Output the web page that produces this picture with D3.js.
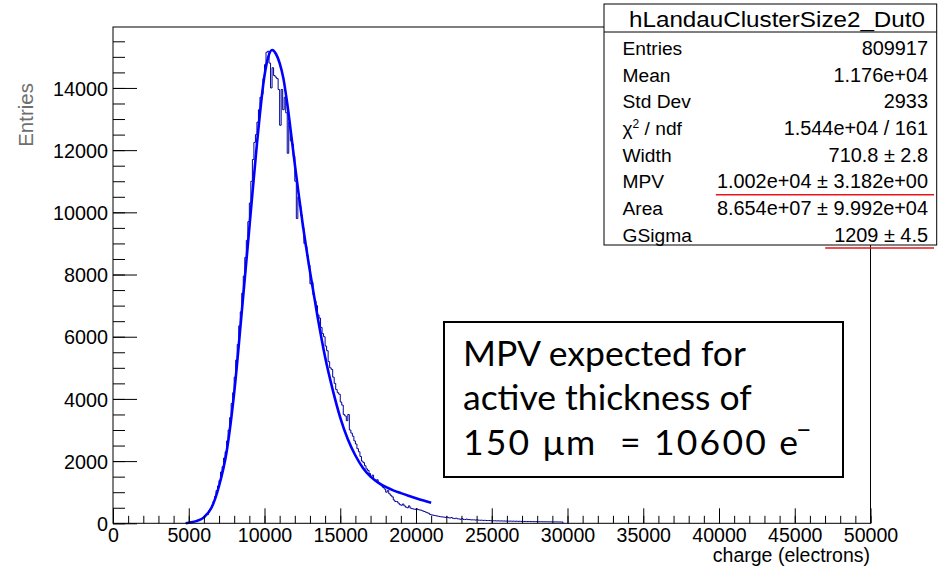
<!DOCTYPE html>
<html>
<head>
<meta charset="utf-8">
<script src="https://cdn.jsdelivr.net/npm/d3@7"></script>
<style>
  body { margin: 0; background: #fff; }
  svg text { font-family: "Liberation Sans", Arial, sans-serif; fill: #000; }
</style>
</head>
<body>
<svg id="chart" width="941" height="569"></svg>
<script>
// histogram: 100 e- bins starting at 4800
const binLow = 4800, binWidth = 100;
const counts = [
  4, 12, 22, 30, 44, 52, 66, 78, 104, 128,
  150, 178, 215, 270, 280, 400, 480, 560, 700, 860,
  1050, 1200, 1380, 1650, 1820, 2100, 2300, 2650, 3000, 3400,
  3850, 4200, 4700, 5250, 5750, 6350, 6800, 7400, 7950, 8550,
  9100, 9700, 10300, 11000, 11700, 12250, 12500, 12900, 13300, 13700,
  13800, 14300, 14750, 15150, 15180, 14800, 14000, 14650, 14400, 14350,
  14300, 13950, 12800, 13950, 13300, 13700, 13200, 11900, 12900, 12300,
  12200, 11800, 11000, 9800, 10500, 10200, 9900, 9500, 9000, 8900,
  8600, 8300, 7700, 7750, 7350, 7150, 7000, 6700, 6600, 6300,
  6100, 6000, 5700, 5550, 5200, 5000, 4950, 4700, 4500, 4300,
  4200, 4150, 3900, 3800, 3500, 3450, 3300, 3500, 3000, 2900,
  2800, 2650, 2550, 2400, 2300, 2150, 2000, 1950, 1850, 1750,
  1700, 1600, 1500, 1550, 1400, 1350, 1400, 1300, 1250, 1200,
  1150, 1100, 1000, 1050, 950, 900, 850, 750, 700, 700,
  650, 600, 580, 620, 560, 520, 500, 560, 490, 470,
  460, 450, 470, 440, 430, 420, 400, 380, 360, 340,
  320, 280, 270, 260, 250, 240, 230, 220, 210, 205,
  200, 190, 205, 180, 170, 185, 160, 150, 165, 145,
  140, 130, 150, 125, 120, 135, 118, 120, 110, 112,
  110, 104, 112, 100, 98, 100, 92, 96, 90, 88,
  90, 84, 86, 80, 82, 76, 79, 74, 77, 72,
  75, 70, 73, 68, 71, 66, 69, 64, 67, 62,
  65, 60, 63, 58, 61, 56, 59, 55, 57, 54,
  55, 52, 53, 50, 52, 49, 50, 48, 49, 47,
  48, 46, 46, 45, 45, 44, 44, 43, 42
];

// fitted Landau (x) Gauss curve
const fitX = [4800, 5000, 5500, 6000, 6500, 7000, 7500, 8000, 8500, 9000, 9500, 10000,
  10250, 10500, 10750, 11000, 11250, 11500, 11750, 12000, 12250, 12500, 13000, 13500,
  14000, 14500, 15000, 15500, 16000, 16500, 17000, 17500, 18000, 18500, 19000, 19500,
  20000, 20500, 21000];
const fitY = [0, 20, 70, 190, 500, 1200, 2300, 4200, 6800, 9500, 12200, 14400,
  15000, 15220, 15100, 14800, 14300, 13500, 12550, 11550, 10600, 9700, 8100, 6650,
  5350, 4300, 3400, 2700, 2180, 1780, 1500, 1310, 1170, 1060, 970, 885,
  805, 730, 660];

const xTicks = [0, 5000, 10000, 15000, 20000, 25000, 30000, 35000, 40000, 45000, 50000];
const yTicks = [0, 2000, 4000, 6000, 8000, 10000, 12000, 14000];

const statTitle = "hLandauClusterSize2_Dut0";
const statNames = ["Entries", "Mean", "Std Dev", "χ2 / ndf", "Width", "MPV", "Area", "GSigma"];
const statValues = ["809917", "1.176e+04", "2933", "1.544e+04 / 161", "710.8 ± 2.8",
  "1.002e+04 ± 3.182e+00", "8.654e+07 ± 9.992e+04", "1209 ± 4.5"];
const underlined = ["MPV", "GSigma"];

const noteLines = ["MPV expected for", "active thickness of", "150 μm  = 10600 e"];

const svg = d3.select("#chart");
const x = d3.scaleLinear().domain([0, 50000]).range([113, 870.5]);
const y = d3.scaleLinear().domain([0, 15960]).range([523.3, 27]);

// histogram as a step path
const steps = [[binLow, 0]];
counts.forEach((c, i) => {
  const lo = binLow + i * binWidth;
  steps.push([lo, c], [lo + binWidth, c]);
});
steps.push([binLow + counts.length * binWidth, 0]);

svg.append("path")
  .attr("d", d3.line().x(d => x(d[0])).y(d => y(d[1]))(steps))
  .attr("fill", "none")
  .attr("stroke", "#00009a")
  .attr("stroke-width", 1);

svg.append("path")
  .attr("d", d3.line().x(d => x(d[0])).y(d => y(d[1])).curve(d3.curveMonotoneX)(fitX.map((v, i) => [v, fitY[i]])))
  .attr("fill", "none")
  .attr("stroke", "#0000ff")
  .attr("stroke-width", 2.6);

// frame
svg.append("rect")
  .attr("x", x(0)).attr("y", y.range()[1])
  .attr("width", x(50000) - x(0)).attr("height", y.range()[0] - y.range()[1])
  .attr("fill", "none").attr("stroke", "#000").attr("stroke-width", 1);

// axes (ticks point into the frame)
const xAxis = svg.append("g").attr("transform", `translate(0,${y(0)})`)
  .call(d3.axisBottom(x).tickValues(xTicks).tickSizeInner(-15).tickSizeOuter(0).tickPadding(5).tickFormat(d3.format("d")));
svg.append("g").attr("transform", `translate(0,${y(0)})`)
  .call(d3.axisBottom(x).tickValues(d3.range(0, 50001, 1000)).tickSizeInner(-7.5).tickSizeOuter(0).tickFormat(""));
const yAxis = svg.append("g").attr("transform", `translate(${x(0)},0)`)
  .call(d3.axisLeft(y).tickValues(yTicks).tickSizeInner(-24).tickSizeOuter(0).tickPadding(5).tickFormat(d3.format("d")));
svg.append("g").attr("transform", `translate(${x(0)},0)`)
  .call(d3.axisLeft(y).tickValues(d3.range(0, 15960, 500)).tickSizeInner(-12).tickSizeOuter(0).tickFormat(""));

svg.selectAll(".domain").remove();
svg.selectAll(".tick line").attr("stroke", "#000").attr("stroke-width", 1);
xAxis.selectAll("text").style("font-size", "19.6px").attr("fill", "#000").attr("dy", "0.68em");
yAxis.selectAll("text").style("font-size", "19.8px").attr("fill", "#000").attr("dy", "0.36em");

svg.append("text")
  .attr("x", 870).attr("y", 562)
  .attr("text-anchor", "end")
  .style("font-size", "19.5px")
  .text("charge (electrons)");

svg.append("text")
  .attr("transform", "translate(32.5,83) rotate(-90)")
  .attr("text-anchor", "end")
  .style("font-size", "20.5px")
  .style("fill", "#6e6e6e")
  .text("Entries");

// stats box
const box = svg.append("g");
box.append("rect")
  .attr("x", 604).attr("y", 4).attr("width", 332.7).attr("height", 241)
  .attr("fill", "#fff").attr("stroke", "#000").attr("stroke-width", 1);
box.append("line")
  .attr("x1", 604).attr("x2", 936.7).attr("y1", 32).attr("y2", 32)
  .attr("stroke", "#000");
box.append("text")
  .attr("x", 629).attr("y", 26.7)
  .attr("textLength", 296).attr("lengthAdjust", "spacingAndGlyphs")
  .style("font-size", "21.5px")
  .text(statTitle);

const rowY = i => 55 + i * 26.65;
statNames.forEach((name, i) => {
  const t = box.append("text").attr("x", 622.5).attr("y", rowY(i)).style("font-size", "19.2px");
  if (name.startsWith("χ2")) {
    t.append("tspan").text("χ");
    t.append("tspan").attr("dy", -7).style("font-size", "12px").text("2");
    t.append("tspan").attr("dy", 7).text(" / ndf");
  } else {
    t.text(name);
  }
  const v = box.append("text").attr("x", 928).attr("y", rowY(i))
    .attr("text-anchor", "end").style("font-size", "19.9px").text(statValues[i]);
  if (underlined.includes(name)) {
    const bb = v.node().getBBox();
    box.append("line")
      .attr("x1", bb.x - (name === "MPV" ? 1 : 9)).attr("x2", 934)
      .attr("y1", rowY(i) + 6.5).attr("y2", rowY(i) + 6.5)
      .attr("stroke", "#e8141c").attr("stroke-width", 1.6);
  }
});

// annotation box
const note = svg.append("g");
note.append("rect")
  .attr("x", 444).attr("y", 322).attr("width", 399).attr("height", 155)
  .attr("fill", "#fff").attr("stroke", "#000").attr("stroke-width", 2);
noteLines.forEach((line, i) => {
  const t = note.append("text")
    .attr("x", 463).attr("y", 366 + i * 44.3)
    .style("font-family", "Lato, 'Open Sans', sans-serif")
    .style("font-size", "35.5px")
    .style("white-space", "pre");
  if (i === noteLines.length - 1) {
    t.append("tspan").attr("textLength", 335).attr("lengthAdjust", "spacing").text(line);
    t.append("tspan").attr("dx", -4).attr("dy", -16).style("font-size", "26px").text("−");
  } else {
    t.text(line);
  }
});
</script>
</body>
</html>
